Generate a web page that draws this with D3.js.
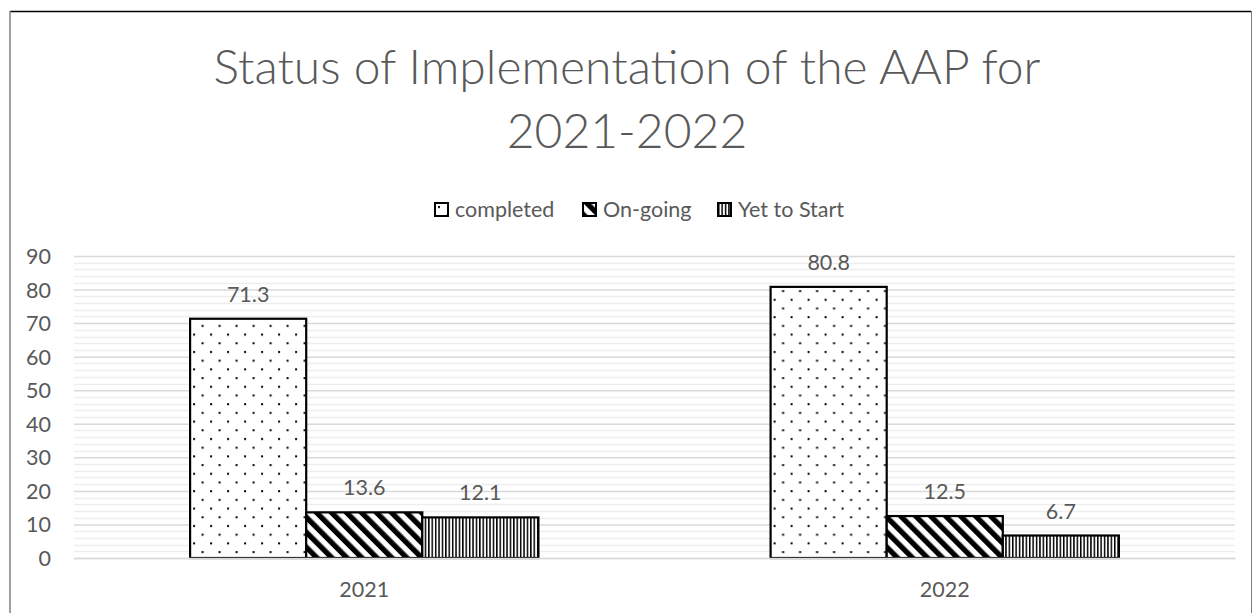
<!DOCTYPE html>
<html>
<head>
<meta charset="utf-8">
<script src="https://cdn.jsdelivr.net/npm/d3@7"></script>
<style>
  html, body { margin: 0; padding: 0; background: #fff; }
  svg { display: block; }
</style>
</head>
<body>
<svg id="chart" width="1253" height="613"></svg>
<script>
const categories = ["2021", "2022"];
const seriesNames = ["completed", "On-going", "Yet to Start"];
const completed = [71.3, 80.8];
const onGoing = [13.6, 12.5];
const yetToStart = [12.1, 6.7];
const yTicks = [0, 10, 20, 30, 40, 50, 60, 70, 80, 90];
const titleLines = ["Status of Implementation of the AAP for", "2021-2022"];

const seriesValues = [completed, onGoing, yetToStart];
const patternIds = ["pDots", "pDiag", "pVert"];

const W = 1253, H = 613;
const svg = d3.select("#chart");
const font = "Lato, 'Open Sans', sans-serif";
const textColor = "#595959";
const fs = 21.5;

// patterns
const defs = svg.append("defs");
const pd = defs.append("pattern").attr("id", "pDots").attr("patternUnits", "userSpaceOnUse")
  .attr("width", 17).attr("height", 17.4);
pd.append("rect").attr("width", 17).attr("height", 17.4).attr("fill", "#fff");
pd.append("rect").attr("x", 3).attr("y", 3).attr("width", 2).attr("height", 2).attr("fill", "#000");
pd.append("rect").attr("x", 11.5).attr("y", 11.7).attr("width", 2).attr("height", 2).attr("fill", "#000");

const pg = defs.append("pattern").attr("id", "pDiag").attr("patternUnits", "userSpaceOnUse")
  .attr("width", 10.6).attr("height", 10.6).attr("patternTransform", "rotate(-45)");
pg.append("rect").attr("width", 10.6).attr("height", 10.6).attr("fill", "#fff");
pg.append("rect").attr("width", 5.3).attr("height", 10.6).attr("fill", "#000");

const pv = defs.append("pattern").attr("id", "pVert").attr("patternUnits", "userSpaceOnUse")
  .attr("width", 3.4).attr("height", 10);
pv.append("rect").attr("width", 3.4).attr("height", 10).attr("fill", "#fff");
pv.append("rect").attr("width", 1.5).attr("height", 10).attr("fill", "#000");

// chart border
svg.append("line").attr("x1", 10).attr("x2", 1251).attr("y1", 11.5).attr("y2", 11.5)
  .attr("stroke", "#000").attr("stroke-width", 1.5);
svg.append("line").attr("x1", 10).attr("x2", 10).attr("y1", 11).attr("y2", H)
  .attr("stroke", "#7f7f7f").attr("stroke-width", 1.5);
svg.append("line").attr("x1", 1251.5).attr("x2", 1251.5).attr("y1", 11).attr("y2", H)
  .attr("stroke", "#7f7f7f").attr("stroke-width", 1);

// scales
const plotL = 74, plotR = 1235, plotT = 256, plotB = 558;
const x0 = d3.scaleBand().domain(categories).range([plotL, plotR]).paddingInner(0).paddingOuter(0);
const barW = x0.bandwidth() / 5;
const x1 = d3.scaleBand().domain(seriesNames).range([0, barW * 3]);
const y = d3.scaleLinear().domain([0, 90]).range([plotB, plotT]);

// minor gridlines
const minor = d3.range(0, 91, 2).filter(v => v % 10 !== 0);
svg.append("g").selectAll("line").data(minor).join("line")
  .attr("x1", plotL).attr("x2", plotR)
  .attr("y1", d => Math.round(y(d)) + 0.5).attr("y2", d => Math.round(y(d)) + 0.5)
  .attr("stroke", "#eeeeee").attr("stroke-width", 1.5);

// major gridlines via axis
const yAxis = d3.axisLeft(y).tickValues(yTicks).tickSize(-(plotR - plotL)).tickPadding(23);
const gy = svg.append("g").attr("transform", `translate(${plotL},0)`).call(yAxis);
gy.select(".domain").remove();
gy.selectAll(".tick line").attr("stroke", "#d9d9d9").attr("stroke-width", 1.5);
gy.selectAll(".tick text").attr("fill", textColor).attr("font-family", font)
  .attr("font-size", fs).attr("dy", "0.35em");

// bars
const groups = svg.append("g").selectAll("g").data(categories).join("g")
  .attr("transform", d => `translate(${x0(d) + barW},0)`);
groups.selectAll("rect").data((c, ci) => seriesNames.map((s, si) => ({ s, si, v: seriesValues[si][ci] })))
  .join("rect")
  .attr("x", d => x1(d.s))
  .attr("y", d => y(d.v))
  .attr("width", x1.bandwidth())
  .attr("height", d => y(0) - y(d.v))
  .attr("fill", d => `url(#${patternIds[d.si]})`)
  .attr("stroke", "#000").attr("stroke-width", 2.2);

// data labels
groups.selectAll("text").data((c, ci) => seriesNames.map((s, si) => ({ s, si, v: seriesValues[si][ci] })))
  .join("text")
  .attr("x", d => x1(d.s) + x1.bandwidth() / 2)
  .attr("y", d => y(d.v) - 17)
  .attr("text-anchor", "middle")
  .attr("fill", textColor).attr("font-family", font).attr("font-size", fs)
  .text(d => d.v);

// x axis
const xAxis = d3.axisBottom(x0).tickSize(0).tickPadding(24);
const gx = svg.append("g").attr("transform", `translate(0,${plotB})`).call(xAxis);
gx.select(".domain").attr("stroke", "#d9d9d9").attr("stroke-width", 1.5);
gx.selectAll(".tick text").attr("fill", textColor).attr("font-family", font).attr("font-size", fs);

// title
const title = svg.append("text").attr("text-anchor", "middle").attr("fill", textColor)
  .attr("font-family", font).attr("font-weight", 300).attr("font-size", 48);
title.selectAll("tspan").data(titleLines).join("tspan")
  .attr("x", 627).attr("y", (d, i) => 84 + i * 64).text(d => d);

// legend
const legendX = [435, 583, 718];
const leg = svg.append("g").selectAll("g").data(seriesNames).join("g")
  .attr("transform", (d, i) => `translate(${legendX[i]},203)`);
leg.append("rect").attr("width", 13).attr("height", 13)
  .attr("fill", (d, i) => `url(#${patternIds[i]})`).attr("stroke", "#000").attr("stroke-width", 2);
leg.append("text").attr("x", 20).attr("y", 14).attr("fill", textColor)
  .attr("font-family", font).attr("font-size", fs).text(d => d);
</script>
</body>
</html>
